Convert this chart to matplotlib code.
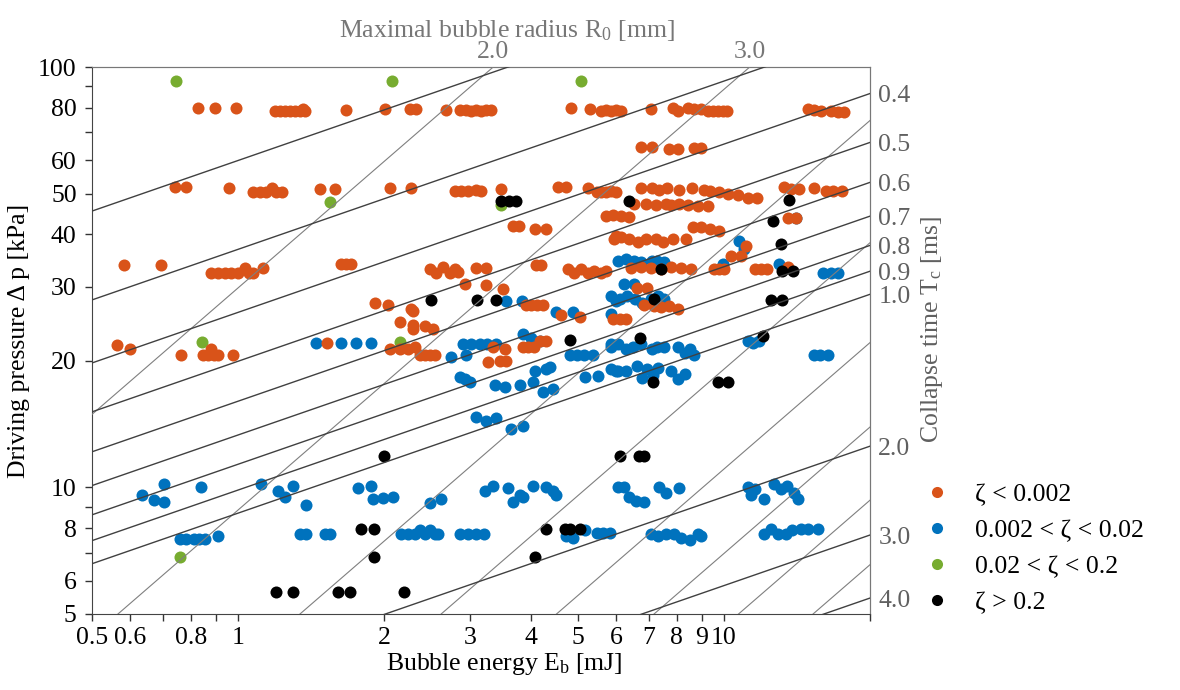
import numpy as np
import matplotlib
matplotlib.use("Agg")
import matplotlib.pyplot as plt
from matplotlib.lines import Line2D

plt.rcParams['font.family'] = ['Liberation Serif', 'DejaVu Serif']
plt.rcParams['mathtext.fontset'] = 'custom'
plt.rcParams['mathtext.rm'] = 'Liberation Serif'
plt.rcParams['mathtext.it'] = 'Liberation Serif:italic'

# ---------------- data (E_b in mJ, driving pressure in kPa) ----------------
orange_E = [0.827, 0.897, 0.990, 1.191, 1.220, 1.249, 1.279, 1.310, 1.341, 1.373, 1.36, 1.668,
            2.006, 2.259, 2.325, 2.68, 2.863, 2.946, 3.016, 3.089, 3.163, 3.239, 3.316,
            4.845, 5.30, 5.585, 5.72, 5.856, 5.995, 6.14, 7.078, 7.856, 8.04, 8.434, 8.68, 8.971,
            9.275, 9.50, 9.73, 9.97, 10.13, 14.9, 15.3, 15.84, 16.61, 17.2, 17.7,
            6.75, 7.10, 7.709, 8.044, 8.678, 8.971,
            0.742, 0.781, 0.958, 1.073, 1.109, 1.141, 1.175, 1.198, 1.232, 1.475, 1.584,
            2.055, 2.27, 2.797, 2.877, 2.98, 3.09, 3.163, 3.477, 4.555, 4.73,
            5.25, 5.47, 5.585, 5.72, 5.856, 5.995, 6.75, 7.10, 7.35, 7.64, 8.08, 8.62, 9.09, 9.36, 9.77,
            10.18, 10.68, 11.21, 11.7, 13.3, 13.74, 14.3, 15.3, 16.2, 16.8, 17.5,
            6.53, 6.91, 7.25, 7.60, 7.78, 8.08, 8.43, 8.85, 9.28,
            5.72, 5.92, 6.14, 6.38, 13.55, 14.1,
            3.68, 3.787, 4.085, 4.304, 8.637, 8.971, 9.36, 9.79, 5.99,
            5.94, 6.14, 6.38, 6.65, 6.91, 7.25, 7.49, 7.86, 8.355, 11.1, 10.34, 10.84,
            0.583, 0.694, 0.880, 0.909, 0.940, 0.967, 1.0, 1.034, 1.053, 1.073, 1.126,
            1.629, 1.668, 1.708, 2.483, 2.555, 2.643, 2.73, 2.79, 2.83, 3.089, 3.24, 4.10, 4.20,
            4.78, 4.92, 5.08, 5.25, 5.40, 5.585, 5.72, 6.44, 6.75, 7.08, 7.42, 7.78, 8.16, 8.56,
            9.54, 9.77, 10.02, 11.6, 11.92, 12.3, 13.55,
            2.93, 3.24, 3.51, 6.63, 6.96, 6.85, 7.18, 7.42, 7.71, 8.04,
            1.914, 2.03, 2.27, 2.29, 2.15, 2.29, 2.29, 2.43, 2.52,
            3.91, 4.01, 4.12, 4.24, 4.62, 5.05, 5.92, 6.1, 6.3,
            0.564, 0.600, 0.763, 0.847, 0.868, 0.877, 0.89, 0.909, 0.977, 1.525,
            2.055, 2.15, 2.24, 2.31, 2.37, 2.43, 2.48, 2.54,
            3.35, 3.54, 3.27, 3.46, 3.56, 3.86, 3.96, 4.06, 4.18, 4.30]
orange_dp = [79.8, 79.8, 79.8, 78.5, 78.5, 78.5, 78.5, 78.5, 78.5, 78.8, 79.6, 79.0,
             79.4, 79.4, 79.4, 79.0, 79.0, 79.0, 78.5, 79.0, 78.5, 79.0, 79.0,
             79.8, 79.4, 78.5, 79.0, 78.5, 79.0, 78.5, 79.4, 79.8, 78.5, 79.8, 79.4, 79.4,
             78.5, 78.8, 78.5, 78.8, 78.5, 79.4, 79.0, 78.5, 78.8, 78.0, 78.2,
             64.5, 64.5, 63.8, 63.8, 64.1, 64.1,
             51.8, 51.8, 51.5, 50.3, 50.3, 50.3, 51.6, 50.3, 50.3, 51.2, 51.2,
             51.5, 51.5, 50.6, 50.6, 50.6, 50.9, 50.6, 51.2, 51.8, 51.8,
             51.5, 50.3, 50.3, 50.3, 50.6, 50.3, 51.5, 51.5, 51.0, 51.5, 51.0, 51.5, 51.0, 50.6, 50.3,
             50.0, 49.5, 48.7, 48.7, 51.8, 51.2, 51.2, 51.5, 50.6, 50.6, 50.6,
             47.3, 47.3, 47.0, 47.3, 47.0, 47.3, 47.0, 46.7, 46.7,
             44.2, 44.5, 44.2, 43.9, 43.7, 43.7,
             41.8, 41.8, 41.1, 41.1, 41.6, 41.6, 41.1, 40.8, 39.6,
             38.9, 39.4, 38.9, 38.4, 38.9, 38.9, 38.4, 38.9, 38.9, 37.5, 35.6, 35.6,
             33.8, 33.8, 32.3, 32.3, 32.3, 32.3, 32.3, 33.2, 32.3, 32.3, 33.2,
             34.0, 34.0, 34.0, 33.0, 32.3, 33.4, 32.3, 33.0, 32.5, 33.2, 33.2, 33.8, 33.8,
             33.0, 32.3, 33.0, 32.3, 32.7, 32.3, 32.7, 33.2, 33.5, 33.2, 33.0, 33.5, 33.2, 33.0,
             33.0, 33.0, 33.0, 33.0, 33.0, 33.0, 33.5,
             30.4, 30.3, 29.6, 29.8, 29.8, 27.2, 27.0, 26.8, 27.0, 26.6,
             27.4, 27.1, 26.5, 26.3, 24.7, 24.4, 23.8, 24.2, 23.8,
             27.1, 27.1, 27.1, 27.1, 25.7, 25.5, 25.1, 25.2, 25.2,
             21.8, 21.4, 20.7, 20.6, 20.6, 21.3, 20.6, 20.6, 20.6, 22.0,
             21.4, 21.4, 21.3, 21.6, 20.7, 20.6, 20.7, 20.7,
             21.6, 21.3, 19.9, 20.0, 20.0, 21.6, 21.6, 21.6, 22.3, 22.3]

blue_E = [1.447, 1.629, 1.751, 1.878, 2.90, 3.02, 3.14, 3.25, 3.39, 2.95, 2.74,
          3.86, 4.01, 4.18, 4.83, 4.99, 5.16, 5.38, 5.86,
          5.99, 5.86, 4.51, 4.89, 3.56, 3.84, 5.995, 4.08, 4.30, 4.39,
          2.86, 2.93, 3.00, 3.38, 3.54, 3.80, 4.05, 4.24, 4.45, 5.18, 5.51,
          3.09, 3.24, 3.39, 3.65, 3.86,
          6.06, 6.28, 6.53, 6.75, 7.10, 7.28, 7.53, 9.97, 13.0, 16.0, 16.6, 17.2,
          6.23, 6.53, 5.86, 6.10, 6.32, 6.56, 6.80, 7.08, 7.32, 7.53,
          10.74, 11.0, 14.1, 11.2, 11.5, 11.8,
          5.86, 6.06, 6.28, 6.5, 6.75, 7.1, 7.3, 7.53, 8.04, 8.3, 8.5, 8.7,
          15.3, 15.8, 16.4, 5.86, 6.06, 6.28, 6.63, 6.8, 6.96, 7.14, 7.32, 7.78, 8.04, 8.3,
          0.704, 0.634, 0.670, 0.704, 0.839, 1.115, 1.208, 1.249, 1.297, 1.380,
          1.766, 1.878, 1.897, 1.99, 2.085, 2.48, 2.62,
          3.22, 3.35, 3.60, 3.80, 3.68, 3.86, 4.05, 4.30, 4.45, 4.51,
          6.06, 6.23, 6.38, 6.6, 6.84, 7.36, 7.6, 8.08,
          11.2, 11.37, 11.6, 12.1, 12.7, 13.1, 13.5, 13.97, 14.2,
          0.76, 0.781, 0.812, 0.832, 0.855, 0.909, 1.34, 1.38, 1.51, 1.547,
          2.165, 2.24, 2.31, 2.37, 2.43, 2.48, 2.54, 2.58, 2.86, 2.98, 3.09, 3.20,
          4.73, 4.89, 5.18, 5.47, 5.63, 5.83,
          7.08, 7.32, 7.6, 7.9, 8.16, 8.5, 8.85, 8.97,
          12.1, 12.5, 12.9, 13.4, 13.8, 14.4, 14.9, 15.6]
blue_dp = [22.1, 22.1, 22.1, 22.1, 21.9, 21.9, 21.9, 21.9, 21.9, 20.7, 20.4,
           23.2, 22.7, 22.3, 20.7, 20.7, 20.7, 20.7, 21.9,
           27.7, 25.9, 26.1, 26.1, 27.7, 27.7, 18.9, 18.9, 19.1, 19.3,
           18.3, 18.1, 17.8, 17.5, 17.3, 17.5, 17.8, 16.9, 17.1, 18.3, 18.4,
           14.7, 14.4, 14.6, 13.8, 14.0,
           34.6, 34.9, 34.6, 34.4, 34.6, 34.6, 34.4, 34.0, 34.0, 32.3, 32.3, 32.3,
           30.4, 30.4, 28.5, 28.0, 28.5, 28.0, 27.4, 28.0, 28.5, 28.0,
           38.5, 37.0, 43.7, 22.3, 22.0, 22.3,
           21.6, 21.9, 21.3, 21.6, 21.9, 21.3, 21.6, 21.6, 21.6, 20.9, 21.3, 20.7,
           20.7, 20.7, 20.7, 19.1, 18.9, 18.9, 19.4, 18.2, 19.1, 18.5, 19.2, 18.9, 18.1, 18.6,
           10.2, 9.62, 9.36, 9.21, 10.05, 10.2, 9.8, 9.5, 10.1, 9.1,
           9.95, 10.1, 9.4, 9.45, 9.5, 9.2, 9.4,
           9.8, 10.1, 9.95, 9.6, 9.25, 9.5, 10.1, 10.05, 9.8, 9.6,
           10.0, 10.0, 9.5, 9.3, 9.25, 10.0, 9.7, 9.95,
           10.0, 9.6, 9.9, 9.4, 10.2, 9.9, 10.1, 9.7, 9.4,
           7.56, 7.56, 7.56, 7.56, 7.56, 7.65, 7.73, 7.73, 7.73, 7.73,
           7.73, 7.73, 7.73, 7.9, 7.73, 7.9, 7.73, 7.73, 7.73, 7.73, 7.73, 7.73,
           7.65, 7.6, 7.9, 7.78, 7.78, 7.78,
           7.73, 7.65, 7.73, 7.73, 7.6, 7.5, 7.73, 7.65,
           7.73, 7.98, 7.73, 7.73, 7.9, 7.98, 7.98, 7.98]

green_E = [0.745, 2.074, 5.08, 1.546, 3.48, 0.843, 2.15, 0.76]
green_dp = [92.5, 92.5, 92.5, 47.7, 47.0, 22.2, 22.2, 6.85]

black_E = [3.48, 3.61, 3.73, 6.38, 13.6, 12.6, 13.1, 7.42, 13.2, 13.9,
           2.49, 3.1, 3.39, 7.18, 12.5, 13.2, 4.82, 6.71, 12.07,
           7.14, 9.75, 10.2, 2.0, 6.10, 6.70, 6.84,
           1.79, 1.90, 1.90, 4.30, 4.70, 4.82, 5.05, 4.08,
           1.197, 1.297, 1.606, 1.70, 2.20]
black_dp = [47.9, 47.9, 47.9, 47.9, 48.2, 43.1, 37.9, 33.0, 32.8, 32.8,
            27.9, 27.9, 27.9, 28.0, 27.9, 27.9, 22.4, 22.7, 22.9,
            17.8, 17.8, 17.8, 11.9, 11.9, 11.9, 11.9,
            7.98, 7.98, 6.85, 7.98, 7.98, 7.98, 7.98, 6.85,
            5.65, 5.65, 5.65, 5.65, 5.65]

legend_labels = ['ζ < 0.002', '0.002 < ζ < 0.02', '0.02 < ζ < 0.2', 'ζ > 0.2']
colors = ['#D95319', '#0072BD', '#77AC30', '#000000']

# reference lines: maximal radius R0 [mm] and collapse time Tc [ms]
R0_values = [1, 2, 3, 4, 5, 6, 7, 8, 9, 10]
Tc_values = [0.1, 0.2, 0.3, 0.4, 0.5, 0.6, 0.7, 0.8, 0.9, 1.0, 2.0, 3.0, 4.0, 5.0]
TC_COEF = 6.06          # Tc[ms] = TC_COEF * E[mJ]^(1/3) * dp[kPa]^(-5/6)
E_lim = (0.5, 20.0)
dp_lim = (5.0, 100.0)
x_ticks = [0.5, 0.6, 0.7, 0.8, 0.9, 1, 2, 3, 4, 5, 6, 7, 8, 9, 10, 20]
x_ticklabels = ['0.5', '0.6', '', '0.8', '', '1', '2', '3', '4', '5', '6', '7', '8', '9', '10', '']
y_ticks = [5, 6, 7, 8, 9, 10, 20, 30, 40, 50, 60, 70, 80, 90, 100]
y_ticklabels = ['5', '6', '', '8', '', '10', '20', '30', '40', '50', '60', '', '80', '', '100']
top_ticks = [2.0, 3.0]
right_ticks = [0.4, 0.5, 0.6, 0.7, 0.8, 0.9, 1.0, 2.0, 3.0, 4.0]

FS = 18.5
fig = plt.figure(figsize=(11.8, 6.9), dpi=100)
ax = fig.add_axes([92/1180, 1-614/690, 778/1180, 547/690])
ax.set_xscale('log')
ax.set_yscale('log')
ax.set_xlim(*E_lim)
ax.set_ylim(*dp_lim)

K = 4.0/3.0*np.pi*1e-3   # E[mJ] = K * R0[mm]^3 * dp[kPa]

# constant radius lines
dps = np.geomspace(1, 200, 200)
for r in R0_values:
    ax.plot(K*r**3*dps, dps, color='#7f7f7f', lw=0.8, zorder=5)
# constant collapse-time lines
Es = np.geomspace(0.1, 50, 200)
for t in Tc_values:
    ax.plot(Es, (t/(TC_COEF*Es**(1/3)))**(-6/5), color='#404040', lw=1.0, zorder=5)

ms = 75
ax.scatter(blue_E, blue_dp, s=ms, color=colors[1], lw=0, zorder=2)
ax.scatter(green_E, green_dp, s=ms, color=colors[2], lw=0, zorder=2)
ax.scatter(orange_E, orange_dp, s=ms, color=colors[0], lw=0, zorder=3)
ax.scatter(black_E, black_dp, s=ms, color=colors[3], lw=0, zorder=4)

ax.set_xticks(x_ticks)
ax.set_xticklabels(x_ticklabels)
ax.set_yticks(y_ticks)
ax.set_yticklabels(y_ticklabels)
ax.minorticks_off()
ax.tick_params(axis='both', labelsize=FS, direction='out', length=5, width=1, color='#333333')
ax.tick_params(axis='x', pad=4)
ax.tick_params(axis='y', pad=6)
for s in ['left', 'bottom']:
    ax.spines[s].set_color('#444444')
for s in ['top', 'right']:
    ax.spines[s].set_color('#777777')
ax.set_xlabel('Bubble energy E$_\\mathrm{b}$ [mJ]', fontsize=FS, labelpad=0)
ax.set_ylabel('Driving pressure Δ p [kPa]', fontsize=FS, labelpad=6)
ax.xaxis.set_label_coords(0.53, -0.068)

# top axis: maximal radius at dp = 100 kPa
def e2r(E):
    E = np.clip(np.asarray(E, dtype=float), 1e-9, None)
    return (E/(K*dp_lim[1]))**(1/3)

def r2e(r):
    r = np.clip(np.asarray(r, dtype=float), 1e-9, None)
    return K*dp_lim[1]*r**3

top = ax.secondary_xaxis('top', functions=(e2r, r2e))
top.set_xticks(top_ticks)
top.set_xticklabels(['%.1f' % v for v in top_ticks])
top.minorticks_off()
top.tick_params(labelsize=FS, length=0, pad=3, labelcolor='#777777')
top.spines['top'].set_color('#999999')
top.set_xlabel('Maximal bubble radius R$_0$ [mm]', fontsize=FS, color='#777777', labelpad=4)
top.xaxis.set_label_coords(0.533, 1.055, transform=ax.transAxes)

# right axis: collapse time at E = 20 mJ
def p2t(p):
    p = np.clip(np.asarray(p, dtype=float), 1e-9, None)
    return TC_COEF*E_lim[1]**(1/3)*p**(-5/6)

def t2p(t):
    t = np.clip(np.asarray(t, dtype=float), 1e-9, None)
    return (t/(TC_COEF*E_lim[1]**(1/3)))**(-6/5)

right = ax.secondary_yaxis('right', functions=(p2t, t2p))
right.set_yticks(right_ticks)
right.set_yticklabels(['%.1f' % v for v in right_ticks])
right.minorticks_off()
right.tick_params(labelsize=FS, length=0, pad=6, labelcolor='#606060')
right.spines['right'].set_color('#777777')
right.set_ylabel('Collapse time T$_\\mathrm{c}$ [ms]', fontsize=FS, color='#606060', labelpad=4)
right.yaxis.set_label_coords(1.063, 0.52, transform=ax.transAxes)

handles = [Line2D([], [], ls='', marker='o', ms=8, mec='none', mfc=c) for c in colors]
fig.legend(handles, legend_labels, loc='upper left', bbox_to_anchor=(0.772, 0.318),
           frameon=False, fontsize=FS, handlelength=1.0, handletextpad=1.0,
           labelspacing=0.5, borderpad=0)

fig.savefig('out.png', dpi=100)
